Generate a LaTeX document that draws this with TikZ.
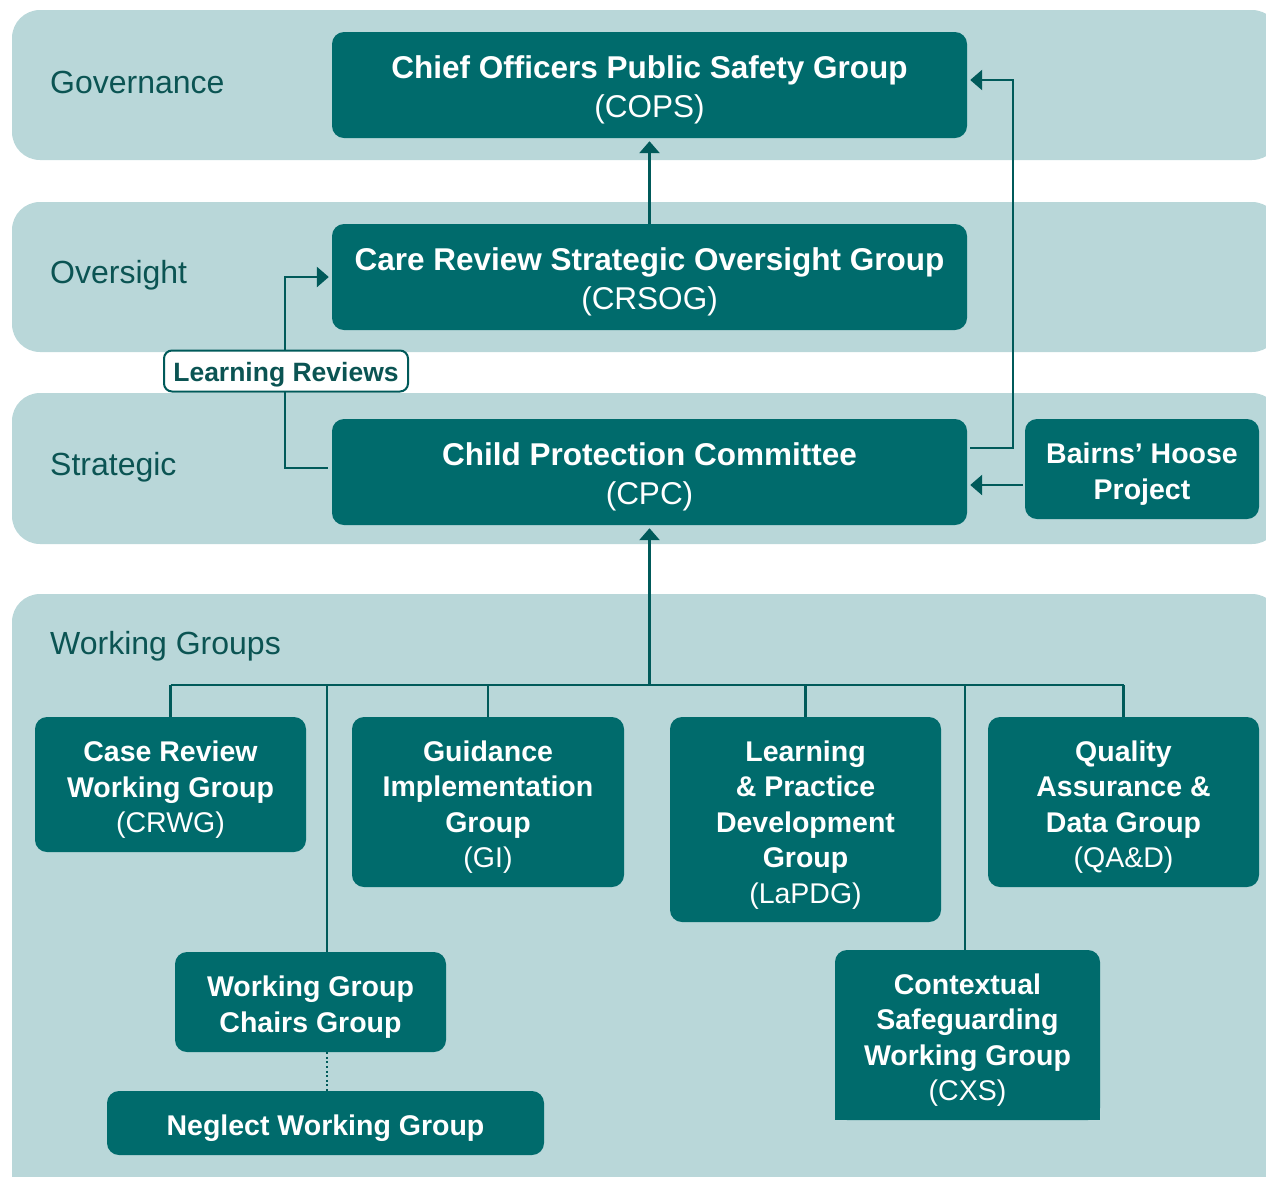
\documentclass[tikz,border=0pt]{standalone}
\usepackage{fontspec}
\setmainfont{Liberation Sans}
\usetikzlibrary{arrows.meta}
\definecolor{bandc}{HTML}{B9D7D9}
\definecolor{boxc}{HTML}{006B6C}
\definecolor{linec}{HTML}{005A5A}
\definecolor{labc}{HTML}{0B5453}
\newcommand\topup{\rule{0pt}{33pt}}
\newcommand\wgup{\rule{0pt}{31pt}}
\begin{document}
\begin{tikzpicture}[x=1pt,y=-1pt,
  band/.style={fill=bandc, rounded corners=28pt},
  bandlabel/.style={anchor=west, text=labc, inner sep=0pt, font=\fontsize{32}{36}\selectfont},
  box/.style={fill=boxc, rounded corners=12pt, text=white, align=center, inner sep=0pt},
  topbox/.style={box, minimum width=635, minimum height=106, font=\fontsize{31.5}{39}\selectfont},
  wgbox/.style={box, font=\fontsize{28.5}{35.5}\selectfont},
  conn/.style={draw=linec, line width=2.8pt},
  arr/.style={conn, -{Triangle[length=12pt,width=20pt]}, shorten >=3pt},
  lrbox/.style={fill=white, draw=linec, line width=2pt, rounded corners=8pt, text=labc,
    minimum width=244, minimum height=41, inner sep=0pt, font=\bfseries\fontsize{26.5}{30}\selectfont,
    execute at begin node={\rule{0pt}{27.5pt}}},
]
\useasboundingbox (0,0) rectangle (1266,1176);

% bands
\fill[band] (12,10) rectangle (1280,160);
\fill[band] (12,202) rectangle (1280,352);
\fill[band] (12,393) rectangle (1280,544);
\fill[band] (12,594) rectangle (1280,1215);

\node[bandlabel] (lgov) at (50,82) {Governance};
\node[bandlabel] (love) at (50,275) {Oversight};
\node[bandlabel] (lstr) at (50,467) {Strategic};
\node[bandlabel] (lwg) at (50,646) {Working Groups};

% top boxes
\node[topbox] (cops) at (649.5,85) {\topup\textbf{Chief Officers Public Safety Group}\\(COPS)};
\node[topbox] (crsog) at (649.5,277) {\topup\textbf{Care Review Strategic Oversight Group}\\(CRSOG)};
\node[topbox] (cpc) at (649.5,472) {\topup\textbf{Child Protection Committee}\\(CPC)};
\node[wgbox, minimum width=234, minimum height=100] (bh) at (1142,469) {\wgup\textbf{Bairns’ Hoose}\\\textbf{Project}};

% working groups
\node[wgbox, minimum width=271, minimum height=135] (crwg) at (170.5,784.5) {\wgup\textbf{Case Review}\\\textbf{Working Group}\\(CRWG)};
\node[wgbox, minimum width=272, minimum height=170] (gi) at (488,802) {\wgup\textbf{Guidance}\\\textbf{Implementation}\\\textbf{Group}\\(GI)};
\node[wgbox, minimum width=271, minimum height=205] (lapdg) at (805.5,819.5) {\wgup\textbf{Learning}\\\textbf{\& Practice}\\\textbf{Development}\\\textbf{Group}\\(LaPDG)};
\node[wgbox, minimum width=271, minimum height=170] (qad) at (1123.5,802) {\wgup\textbf{Quality}\\\textbf{Assurance \&}\\\textbf{Data Group}\\(QA\&D)};
\node[wgbox, minimum width=271, minimum height=100] (wgcg) at (310.5,1002) {\wgup\textbf{Working Group}\\\textbf{Chairs Group}};
\node[wgbox, minimum width=437, minimum height=64] (neglect) at (325.5,1123) {\wgup\textbf{Neglect Working Group}};
\fill[boxc, rounded corners=12pt] (835,950) rectangle (1100,1120);
\fill[boxc] (835,1000) rectangle (1100,1120);
\node[wgbox, fill=none, minimum width=265, minimum height=170] (cxs) at (967.5,1035) {\wgup\textbf{Contextual}\\\textbf{Safeguarding}\\\textbf{Working Group}\\(CXS)};

% connectors
\coordinate (rj) at (1013,0);
\coordinate (lx) at (285,0);
\coordinate (bus) at (649.5,685);
\coordinate (b2) at (327,685);
\coordinate (b5) at (965,685);
\coordinate (copsin) at ([yshift=5pt]cops.east);

\draw[arr] (crsog.north) -- (cops.south);
\draw[arr] ([xshift=3pt,yshift=24pt]cpc.east) -| (copsin -| rj) -- (copsin);
\draw[arr, shorten <=2pt] ([yshift=-16pt]bh.west) -- ([yshift=-16pt]bh.west -| cpc.east);
\draw[arr] ([xshift=-4pt,yshift=4pt]cpc.west) -| (lx |- crsog.west) -- (crsog.west);
\node[lrbox] (lr) at (286,371) {Learning Reviews};

\draw[arr] (bus) -- (cpc.south);
\draw[conn] (crwg.north |- bus) -- (qad.north |- bus);
\draw[conn] (crwg.north) -- (crwg.north |- bus);
\draw[conn] (gi.north) -- (gi.north |- bus);
\draw[conn] (lapdg.north) -- (lapdg.north |- bus);
\draw[conn] (qad.north) -- (qad.north |- bus);
\draw[conn] (b2) -- (b2 |- wgcg.north);
\draw[conn] (b5) -- (b5 |- cxs.north);
\draw[draw=linec, line width=2.2pt, dash pattern=on 2pt off 2.6pt] (b2 |- wgcg.south) -- (b2 |- neglect.north);
\end{tikzpicture}
\end{document}
